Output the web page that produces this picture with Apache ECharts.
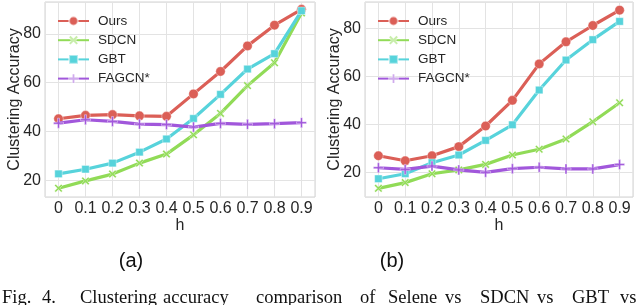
<!DOCTYPE html>
<html>
<head>
<meta charset="utf-8">
<script src="https://cdn.jsdelivr.net/npm/echarts@6/dist/echarts.min.js"></script>
<style>
html,body{margin:0;padding:0;background:#fff;}
#c{width:640px;height:305px;}
</style>
</head>
<body>
<div id="c"></div>
<script>
// ---- data ----
const hValues = [0, 0.1, 0.2, 0.3, 0.4, 0.5, 0.6, 0.7, 0.8, 0.9];
const seriesNames = ['Ours', 'SDCN', 'GBT', 'FAGCN*'];

// (a)
const oursA  = [45.2, 46.6, 46.9, 46.4, 46.2, 55.4, 64.6, 75.1, 83.6, 90.1];
const sdcnA  = [16.7, 19.7, 22.5, 27.0, 30.7, 38.6, 47.4, 58.8, 68.2, 88.6];
const gbtA   = [22.6, 24.5, 27.0, 31.5, 36.9, 45.3, 55.2, 65.6, 71.9, 89.5];
const fagcnA = [43.4, 44.8, 44.1, 43.0, 42.8, 41.8, 43.3, 42.9, 43.2, 43.6];

// (b)
const oursB  = [26.9, 24.8, 26.9, 30.7, 39.3, 50.0, 65.2, 74.4, 81.2, 87.6];
const sdcnB  = [13.3, 15.7, 19.4, 21.0, 23.3, 27.2, 29.6, 33.9, 41.1, 49.0];
const gbtB   = [17.3, 19.4, 24.0, 27.2, 33.3, 39.8, 54.3, 66.8, 75.3, 82.9];
const fagcnB = [21.9, 21.2, 22.6, 21.0, 20.0, 21.5, 22.1, 21.4, 21.4, 23.2];

const yTitle = 'Clustering Accuracy';
const xTitle = 'h';
const panelLabels = ['(a)', '(b)'];
const captionWords = ['Fig.', '4.', 'Clustering', 'accuracy', 'comparison', 'of', 'Selene', 'vs', 'SDCN', 'vs', 'GBT', 'vs'];
const captionX = [2, 42, 80, 163, 256, 360, 388, 445, 480, 537, 572, 620];

// ---- style ----
const colors = ['#db5f57', '#91db57', '#57d3db', '#a157db'];
const xPath = 'path://M0,1.6 L1.6,0 L5,3.4 L8.4,0 L10,1.6 L6.6,5 L10,8.4 L8.4,10 L5,6.6 L1.6,10 L0,8.4 L3.4,5 Z';
const plusPath = 'path://M4,0 L6,0 L6,4 L10,4 L10,6 L6,6 L6,10 L4,10 L4,6 L0,6 L0,4 L4,4 Z';
const symbols = ['circle', xPath, 'rect', plusPath];
const symbolSizes = [9.5, 8, 7.5, 10];
const txt = '#262626';
const font = 'Liberation Sans, Arial, sans-serif';

function pairs(vals) { return vals.map((v, i) => [hValues[i], v]); }

const panels = [
  { data: [oursA, sdcnA, gbtA, fagcnA], left: 45, width: 270, ymin: 13.1, ymax: 93.1 },
  { data: [oursB, sdcnB, gbtB, fagcnB], left: 365, width: 268, ymin: 9.7, ymax: 91.0 }
];

const grids = [], xAxes = [], yAxes = [], series = [], legends = [];
panels.forEach((p, k) => {
  grids.push({ left: p.left, top: 2, width: p.width, height: 195, show: true,
    borderColor: '#d2d2d2', borderWidth: 1, backgroundColor: '#fff' });
  xAxes.push({
    type: 'value', gridIndex: k, min: -0.05, max: 0.95, splitNumber: 10,
    name: xTitle, nameLocation: 'middle', nameGap: 21, nameMoveOverlap: false,
    nameTextStyle: { color: txt, fontSize: 16, fontFamily: font },
    axisLine: { show: false }, axisTick: { show: false },
    axisLabel: { color: txt, fontSize: 16, fontFamily: font, margin: 4,
      showMinLabel: false, showMaxLabel: false,
      formatter: v => (hValues.some(h => Math.abs(h - v) < 1e-6) ? String(Math.round(v * 10) / 10) : '') },
    splitLine: { show: true, lineStyle: { color: '#e3e3e3', width: 1 } }
  });
  yAxes.push({
    type: 'value', gridIndex: k, min: p.ymin, max: p.ymax, splitNumber: 4,
    name: yTitle, nameLocation: 'middle', nameGap: 22, nameMoveOverlap: false,
    nameTextStyle: { color: txt, fontSize: 16, fontFamily: font },
    axisLine: { show: false }, axisTick: { show: false },
    axisLabel: { color: txt, fontSize: 16, fontFamily: font, margin: 4,
      showMinLabel: false, showMaxLabel: false,
      formatter: v => (Math.abs(v % 20) < 1e-6 ? String(v) : '') },
    splitLine: { show: true, lineStyle: { color: '#e3e3e3', width: 1 } }
  });
  p.data.forEach((vals, i) => {
    series.push({
      name: seriesNames[i], type: 'line', xAxisIndex: k, yAxisIndex: k,
      data: pairs(vals), symbol: symbols[i], symbolSize: symbolSizes[i],
      showAllSymbol: true, color: colors[i],
      lineStyle: { width: 3.2, color: colors[i] },
      itemStyle: { color: colors[i], borderColor: 'rgba(255,255,255,0.5)', borderWidth: 0.8 },
      emphasis: { disabled: true }, animation: false, z: 2 + i
    });
  });
  legends.push({
    data: seriesNames, orient: 'vertical', left: p.left + 12, top: 14, padding: 0,
    itemWidth: 31, itemHeight: 11, itemGap: 5.2,
    textStyle: { color: txt, fontSize: 13.5, lineHeight: 14, fontFamily: font, padding: [0, 0, 0, 4] },
    selectedMode: false
  });
});

const graphics = [];
panelLabels.forEach((t, k) => {
  graphics.push({ type: 'text', x: [131, 392][k], y: 261,
    style: { text: t, fill: '#111', font: '20px Liberation Sans, Arial, sans-serif',
      textAlign: 'center', textVerticalAlign: 'middle' } });
});
captionWords.forEach((w, i) => {
  graphics.push({ type: 'text', x: captionX[i], y: 298,
    style: { text: w, fill: '#111', font: '18.5px Liberation Serif, Times New Roman, serif',
      textAlign: 'left', textVerticalAlign: 'middle' } });
});

const chart = echarts.init(document.getElementById('c'), null, { renderer: 'canvas' });
chart.setOption({
  backgroundColor: '#fff',
  animation: false,
  grid: grids, xAxis: xAxes, yAxis: yAxes, series: series, legend: legends,
  graphic: graphics
});
</script>
</body>
</html>
